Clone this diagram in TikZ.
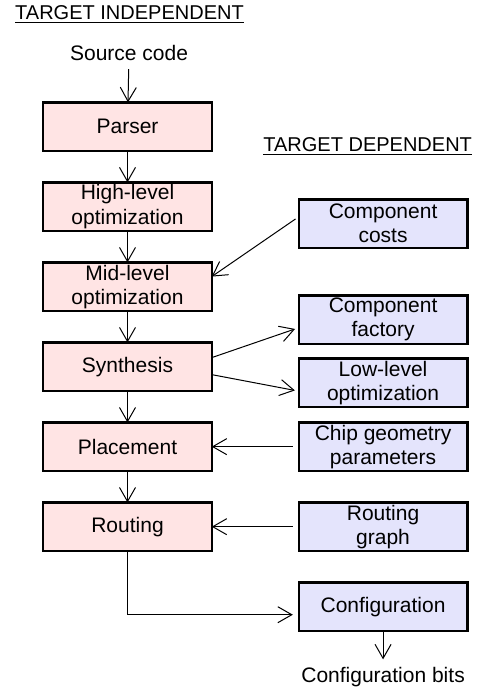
\documentclass[tikz,border=0pt]{standalone}
\usepackage{fontspec}
\setmainfont{Liberation Sans}
\usepackage{xcolor}
\usepackage{tikz}
\usetikzlibrary{arrows.meta,positioning}

\definecolor{indepfill}{RGB}{255,228,228}
\definecolor{depfill}{RGB}{228,228,252}

\begin{document}
\begin{tikzpicture}[
  node distance=0.556cm,
  font=\fontsize{10.5}{12}\selectfont,
  stage/.style={draw, line width=1.2pt, outer sep=0pt, minimum width=2.96cm, minimum height=0.85cm, inner sep=1pt, align=center, fill=indepfill},
  target/.style={stage, fill=depfill},
  heading/.style={inner sep=0pt, font=\fontsize{10}{12}\selectfont},
  arrow/.style={-{Straight Barb[length=7pt,width=8pt]}, line width=0.5pt},
]

\useasboundingbox (0,0) rectangle (8.47,-12.14);

% Headings
\node[heading, anchor=west] (indep) at (0.26,-0.26) {\underline{TARGET INDEPENDENT}};
\node[heading, anchor=west] (dep) at (4.62,-2.57) {\underline{TARGET DEPENDENT}};

% Target independent flow (left)
\node[inner sep=0pt] (src) at (2.267,-0.93) {Source code};
\node[stage] (parser) at (2.24,-2.223) {Parser};
\node[stage, below=of parser] (highopt) {High-level\\optimization};
\node[stage, below=of highopt] (midopt) {Mid-level\\optimization};
\node[stage, below=of midopt] (synth) {Synthesis};
\node[stage, below=of synth] (place) {Placement};
\node[stage, below=of place] (route) {Routing};

% Target dependent inputs (right)
\node[target, right=1.53cm of place] (chipgeo) {Chip geometry\\parameters};
\node[target, above=0.274cm of chipgeo] (lowopt) {Low-level\\optimization};
\node[target, above=0.257cm of lowopt] (factory) {Component\\factory};
\node[target, above=0.836cm of factory] (costs) {Component\\costs};
\node[target, right=1.53cm of route] (rgraph) {Routing\\graph};
\node[target, below=of rgraph] (config) {Configuration};
\node[inner sep=0pt, below=0.64cm of config] (bits) {Configuration bits};

% Main flow
\draw[arrow, shorten <=4pt] (src) -- (parser);
\draw[arrow] (parser) -- (highopt);
\draw[arrow] (highopt) -- (midopt);
\draw[arrow] (midopt) -- (synth);
\draw[arrow] (synth) -- (place);
\draw[arrow] (place) -- (route);

% Side connections
\draw[arrow, shorten <=2pt] ([yshift=3.5pt]costs.west) -- ([yshift=5pt]midopt.east);
\draw[arrow, shorten >=2pt] ([yshift=4.5pt]synth.east) -- ([yshift=-4pt]factory.west);
\draw[arrow, shorten >=2pt] ([yshift=-4pt]synth.east) -- ([yshift=-4.25pt]lowopt.west);
\draw[arrow, shorten <=3pt] (chipgeo) -- (place);
\draw[arrow, shorten <=3pt] (rgraph) -- (route);
\draw[arrow, shorten >=3pt] (route.south) |- ([yshift=-4pt]config.west);
\draw[arrow, shorten >=4pt] (config) -- (bits);

\end{tikzpicture}
\end{document}
